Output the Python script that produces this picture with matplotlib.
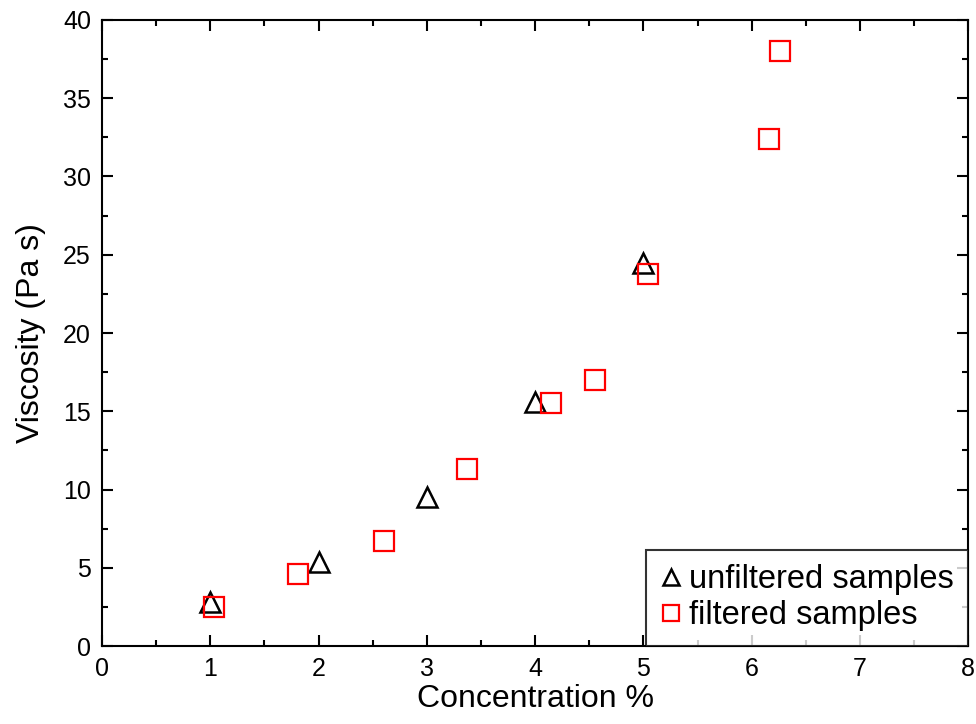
import numpy as np
import matplotlib.pyplot as plt
from matplotlib.ticker import MultipleLocator

plt.rcParams['font.family'] = ['Liberation Sans', 'DejaVu Sans']

# unfiltered samples
conc_unfilt = [1, 2, 3, 4, 5]
visc_unfilt = [2.8, 5.4, 9.5, 15.6, 24.5]

# filtered samples
conc_filt = [1.03, 1.81, 2.6, 3.37, 4.15, 4.55, 5.04, 6.16, 6.26]
visc_filt = [2.5, 4.6, 6.7, 11.3, 15.5, 17.0, 23.8, 32.4, 38.0]

fig = plt.figure(figsize=(9.76, 7.24), dpi=100)
ax = fig.add_axes([0.1045, 0.1077, 0.8875, 0.8647])

ax.plot(conc_unfilt, visc_unfilt, linestyle='none', marker='^', markersize=14,
        markerfacecolor='none', markeredgecolor='black', markeredgewidth=1.8,
        label='unfiltered samples')
ax.plot(conc_filt, visc_filt, linestyle='none', marker='s', markersize=14,
        markerfacecolor='none', markeredgecolor='#ff0000', markeredgewidth=1.6,
        label='filtered samples')

ax.set_xlim(0, 8)
ax.set_ylim(0, 40)
ax.xaxis.set_major_locator(MultipleLocator(1))
ax.xaxis.set_minor_locator(MultipleLocator(0.5))
ax.yaxis.set_major_locator(MultipleLocator(5))
ax.yaxis.set_minor_locator(MultipleLocator(2.5))
ax.tick_params(which='both', direction='in', top=True, right=True, width=1.5,
               labelsize=18, pad=8)
ax.tick_params(which='major', length=8)
ax.tick_params(which='minor', length=4)
for s in ax.spines.values():
    s.set_linewidth(1.5)

ax.set_xlabel('Concentration %', fontsize=23, labelpad=2)
ax.set_ylabel('Viscosity (Pa s)', fontsize=23, labelpad=12)

leg = ax.legend(loc='lower right', fontsize=23.5, frameon=True, fancybox=False,
                borderaxespad=0, handlelength=0.6, handletextpad=0.25,
                borderpad=0.45, labelspacing=0.15)
leg.get_frame().set_edgecolor('black')
leg.get_frame().set_linewidth(1.5)
for h in leg.legend_handles:
    h.set_markersize(11)

fig.savefig('out.png', dpi=100)
